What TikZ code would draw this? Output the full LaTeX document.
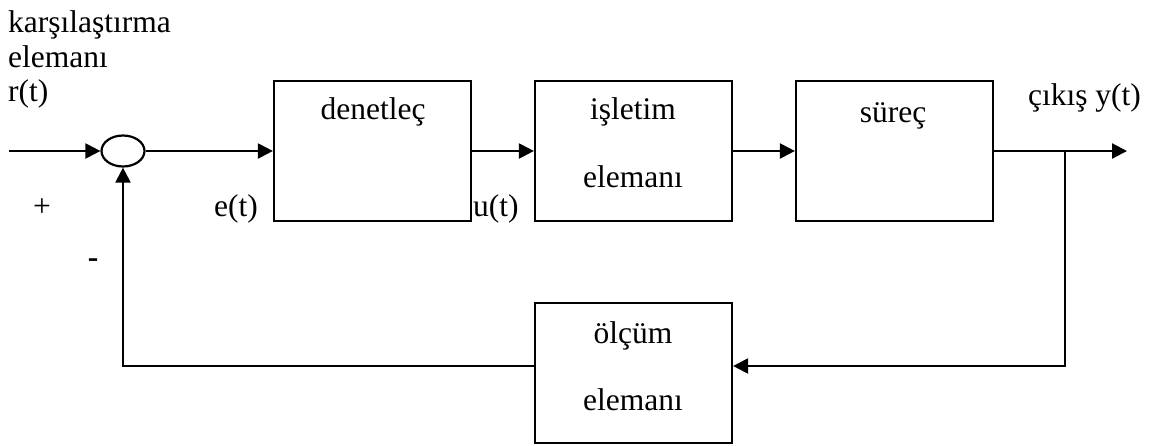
\documentclass[tikz,border=0pt]{standalone}
\usepackage{fontspec}
\setmainfont{Liberation Serif}
\usetikzlibrary{arrows.meta,shapes.geometric,calc}
\begin{document}
\begin{tikzpicture}[x=1pt,y=-1pt,
  line width=2.2pt,
  blockbox/.style={draw,rectangle,minimum width=197pt,minimum height=140pt,inner sep=0pt},
  sumnode/.style={draw,ellipse,minimum width=43pt,minimum height=31pt,inner sep=0pt},
  lbl/.style={inner sep=0pt,font=\fontsize{31.5}{35}\selectfont},
  sig/.style={-{Triangle[length=15pt,width=15pt]}}]
  \useasboundingbox (0,0) rectangle (1156,445);

  % summing junction and blocks
  \node[sumnode] (sum) at (123,151) {};
  \node[blockbox] (ctrl) at (372.5,151) {};
  \node[blockbox] (act)  at (633.5,151) {};
  \node[blockbox] (proc) at (894.5,151) {};
  \node[blockbox] (meas) at (633.5,373) {};

  % texts
  \node[lbl,anchor=base west] (t1) at (7,32) {karşılaştırma};
  \node[lbl,anchor=base west] (t2) at (7,67) {elemanı};
  \node[lbl,anchor=base west] (t3) at (7,101) {r(t)};
  \node[lbl] (plus) at (42,208) {+};
  \node[lbl] (minus) at (93,263) {\textbf{-}};
  \node[lbl,anchor=base west] (et) at (213,216) {e(t)};
  \node[lbl,anchor=base west] (ut) at (472,216) {u(t)};
  \node[lbl,anchor=base] (tc) at (373,119) {denetleç};
  \node[lbl,anchor=base] (ta1) at (633,119) {işletim};
  \node[lbl,anchor=base] (ta2) at (633,187) {elemanı};
  \node[lbl,anchor=base] (tp) at (893,122) {süreç};
  \node[lbl,anchor=base west] (ty) at (1027,105) {çıkış y(t)};
  \node[lbl,anchor=base] (tm1) at (633,343) {ölçüm};
  \node[lbl,anchor=base] (tm2) at (633,410) {elemanı};

  % free ends and corners of the loop
  \coordinate (in)  at (9,151);
  \coordinate (out) at (1127,151);
  \coordinate (tap) at (1065,151);
  \coordinate (fbr) at (1065,366);
  \coordinate (fbl) at (123,366);

  % forward path
  \draw[sig] (in) -- (sum.west);
  \draw[sig] (sum.east) -- (ctrl.west);
  \draw[sig] (ctrl.east) -- (act.west);
  \draw[sig] (act.east) -- (proc.west);
  \draw[sig] (proc.east) -- (out);

  % feedback path
  \draw[sig] (tap) -- (fbr) -- (fbr -| meas.east);
  \draw[sig] (meas.west |- fbl) -- (fbl) -- (sum.south);
\end{tikzpicture}
\end{document}
